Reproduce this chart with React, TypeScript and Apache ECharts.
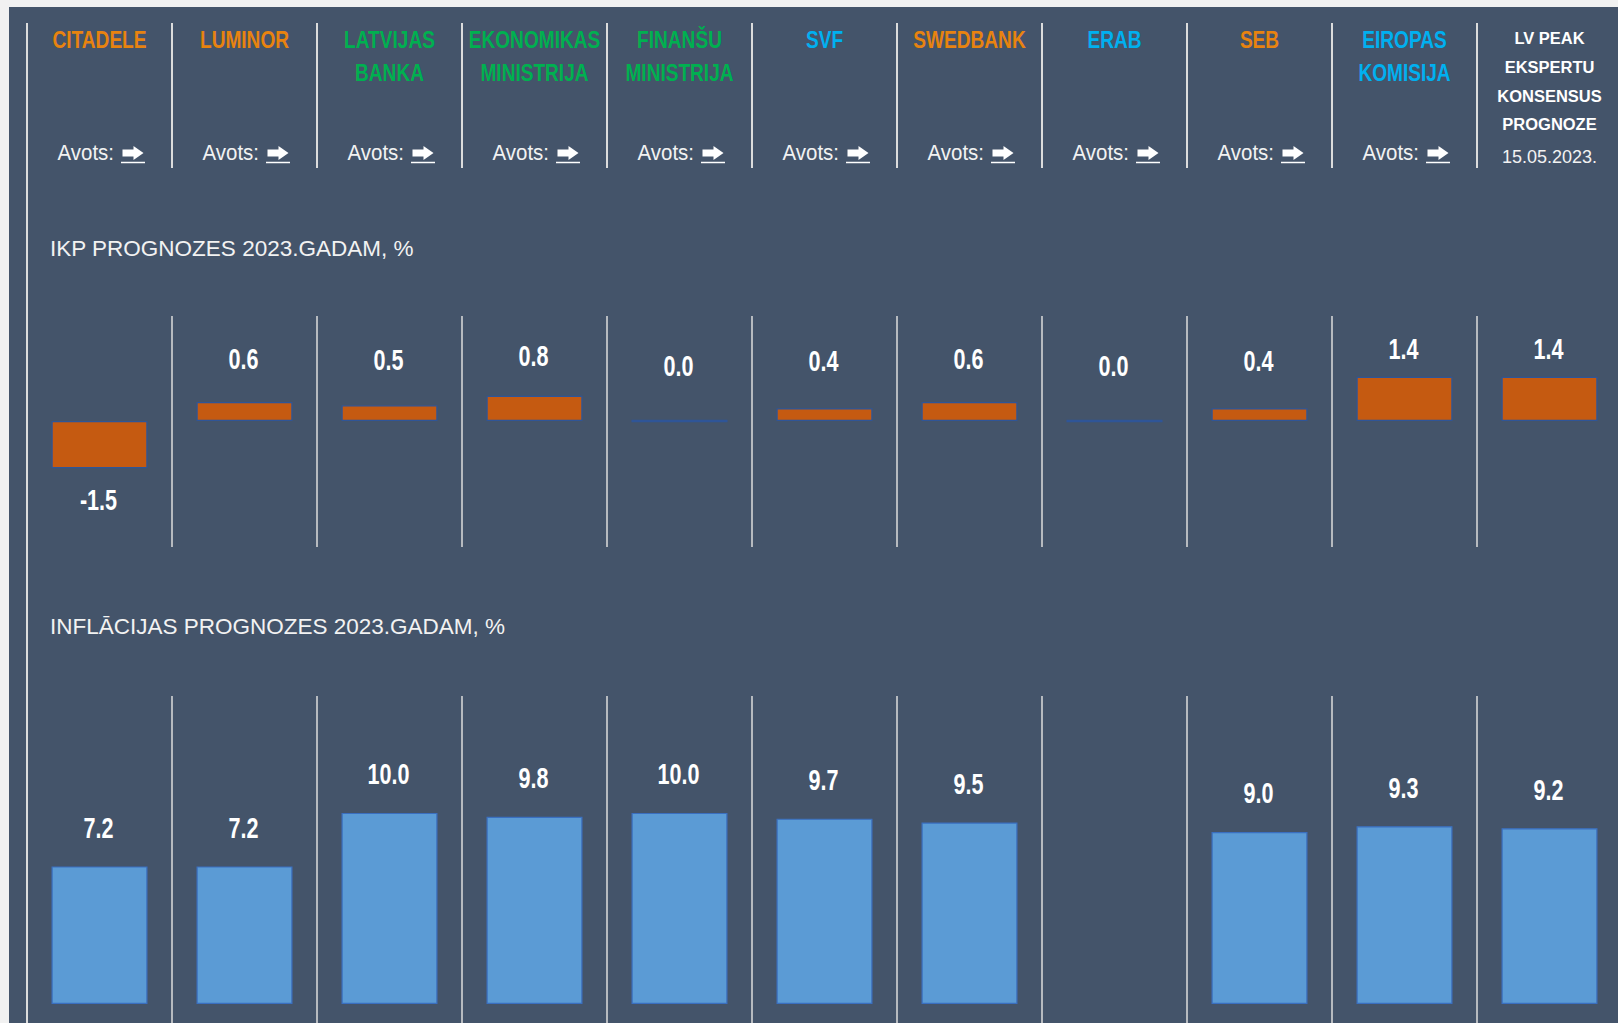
import React, { useEffect, useRef } from "react";
import * as echarts from "echarts";

// ---------- data ----------
const banks = [
  "CITADELE",
  "LUMINOR",
  "LATVIJAS\nBANKA",
  "EKONOMIKAS\nMINISTRIJA",
  "FINANŠU\nMINISTRIJA",
  "SVF",
  "SWEDBANK",
  "ERAB",
  "SEB",
  "EIROPAS\nKOMISIJA",
  "LV PEAK\nEKSPERTU\nKONSENSUS\nPROGNOZE",
];
const bankTypes = ["bank", "bank", "state", "state", "state", "intl", "bank", "intl", "bank", "intl", "consensus"];
const gdpForecast = [-1.5, 0.6, 0.5, 0.8, 0.0, 0.4, 0.6, 0.0, 0.4, 1.4, 1.4];
const inflationForecast: (number | null)[] = [7.2, 7.2, 10.0, 9.8, 10.0, 9.7, 9.5, null, 9.0, 9.3, 9.2];
const sourceLabel = "Avots:";
const consensusDate = "15.05.2023.";
const gdpTitle = "IKP PROGNOZES 2023.GADAM, %";
const inflationTitle = "INFLĀCIJAS PROGNOZES 2023.GADAM, %";

// ---------- styles / layout ----------
const typeColors: Record<string, string> = {
  bank: "#e8830f",
  state: "#00b050",
  intl: "#00b0f0",
  consensus: "#ffffff",
};
const PANEL = "#44546a";
const LINE = "#dcdcdc";
const OX = 9;
const OY = 7;
const COL_W = 145;
const CW = 1660; // wider than the page, clipped by the outer div
const CH = 1023 - OY;
const GRID_LEFT = 27 - OX;
const FONT = "Liberation Sans";

const px = (X: number) => X - OX;
const py = (Y: number) => Y - OY;
const colCenter = (i: number) => px(27 + COL_W * (i + 0.5));

function buildGraphic() {
  const els: any[] = [];
  els.push({
    type: "line",
    shape: { x1: px(27), y1: py(23), x2: px(27), y2: CH },
    style: { stroke: LINE, lineWidth: 2 },
  });
  const title = (text: string, Y: number) => ({
    type: "text",
    x: px(50),
    y: py(Y),
    style: {
      text,
      fill: "#f2f2f2",
      fontSize: 22.5,
      fontFamily: FONT,
      align: "left",
      textAlign: "left",
      verticalAlign: "middle",
      textVerticalAlign: "middle",
    },
  });
  els.push(title(gdpTitle, 248));
  els.push(title(inflationTitle, 626));

  banks.forEach((name, i) => {
    const c = colCenter(i);
    const t = bankTypes[i];
    if (t === "consensus") {
      els.push({
        type: "text",
        x: c,
        y: py(24.2),
        scaleX: 0.97,
        style: {
          text: name,
          fill: typeColors[t],
          fontSize: 17,
          fontWeight: "bold",
          fontFamily: FONT,
          lineHeight: 28.7,
          align: "center",
          textAlign: "center",
          verticalAlign: "top",
          textVerticalAlign: "top",
        },
      });
      els.push({
        type: "text",
        x: c,
        y: py(157),
        style: {
          text: consensusDate,
          fill: "#f2f2f2",
          fontSize: 18,
          fontFamily: FONT,
          align: "center",
          textAlign: "center",
          verticalAlign: "middle",
          textVerticalAlign: "middle",
        },
      });
      return;
    }
    els.push({
      type: "text",
      x: c,
      y: py(23.5),
      scaleX: 0.83,
      style: {
        text: name,
        fill: typeColors[t],
        fontSize: 23,
        fontWeight: "bold",
        fontFamily: FONT,
        lineHeight: 33,
        align: "center",
        textAlign: "center",
        verticalAlign: "top",
        textVerticalAlign: "top",
      },
    });
    els.push({
      type: "text",
      x: c + 14.5,
      y: py(153),
      scaleX: 0.93,
      style: {
        text: sourceLabel,
        fill: "#f2f2f2",
        fontSize: 22,
        fontFamily: FONT,
        align: "right",
        textAlign: "right",
        verticalAlign: "middle",
        textVerticalAlign: "middle",
      },
    });
    const Y = py(153);
    els.push({
      type: "polygon",
      shape: {
        points: [
          [c + 23, Y - 3.5],
          [c + 34, Y - 3.5],
          [c + 34, Y - 7],
          [c + 44, Y],
          [c + 34, Y + 7],
          [c + 34, Y + 3.5],
          [c + 23, Y + 3.5],
        ],
      },
      style: { fill: "#ffffff" },
    });
    els.push({
      type: "line",
      shape: { x1: c + 21.5, y1: py(162.5), x2: c + 45.5, y2: py(162.5) },
      style: { stroke: "#ffffff", lineWidth: 1.5 },
    });
  });
  return els;
}

const catAxis = (gridIndex: number, lw: number) => ({
  type: "category",
  gridIndex,
  data: banks,
  boundaryGap: true,
  axisLine: { show: false },
  axisTick: { show: false },
  axisLabel: { show: false },
  splitLine: { show: true, interval: 0, lineStyle: { color: LINE, width: lw } },
});

const valAxis = (gridIndex: number, min: number, max: number) => ({
  type: "value",
  gridIndex,
  min,
  max,
  show: false,
});

function labelStyle(text: string) {
  return {
    text,
    fill: "#ffffff",
    fontSize: 30,
    fontWeight: "bold",
    fontFamily: FONT,
    align: "center",
    textAlign: "center",
    verticalAlign: "middle",
    textVerticalAlign: "middle",
  };
}

export default function App() {
  const ref = useRef<HTMLDivElement>(null);
  useEffect(() => {
    if (!ref.current) return;
    const chart = echarts.init(ref.current, null, { renderer: "svg" });
    const gridW = COL_W * banks.length;
    const option: any = {
      animation: false,
      backgroundColor: PANEL,
      grid: [
        { left: GRID_LEFT, width: gridW, top: py(23), height: 145 },
        { left: GRID_LEFT, width: gridW, top: py(316), height: 231 },
        { left: GRID_LEFT, width: gridW, top: py(696), height: 327 },
      ],
      xAxis: [catAxis(0, 2), catAxis(1, 1.5), catAxis(2, 1.5)],
      yAxis: [valAxis(0, 0, 1), valAxis(1, -4, 3.33), valAxis(2, -1, 16.12)],
      series: [
        {
          type: "bar",
          xAxisIndex: 1,
          yAxisIndex: 1,
          data: gdpForecast.map((v) =>
            v === 0 ? { value: v, itemStyle: { borderWidth: 2.5 } } : v
          ),
          barWidth: 96,
          itemStyle: { color: "#c55a11", borderColor: "#2f5597", borderWidth: 1.2 },
        },
        {
          type: "custom",
          xAxisIndex: 1,
          yAxisIndex: 1,
          data: gdpForecast.map((v, i) => [i, v]),
          renderItem: (params: any, api: any) => {
            const i = api.value(0);
            const v = api.value(1);
            const zero = api.coord([i, 0]);
            const end = api.coord([i, v]);
            const y = v >= 0 ? zero[1] - 55 - (zero[1] - end[1]) * 0.4 : end[1] + 31.5;
            return {
              type: "text",
              x: zero[0] - 1,
              y,
              scaleX: 0.72,
              style: labelStyle(v.toFixed(1)),
            };
          },
        },
        {
          type: "bar",
          xAxisIndex: 2,
          yAxisIndex: 2,
          data: inflationForecast,
          barWidth: 96,
          itemStyle: { color: "#5b9bd5", borderColor: "#3a6fc0", borderWidth: 1.2 },
        },
        {
          type: "custom",
          xAxisIndex: 2,
          yAxisIndex: 2,
          data: inflationForecast
            .map((v, i) => [i, v])
            .filter((d) => d[1] !== null),
          renderItem: (params: any, api: any) => {
            const i = api.value(0);
            const v = api.value(1);
            const end = api.coord([i, v]);
            return {
              type: "text",
              x: end[0] - 1,
              y: end[1] - 39,
              scaleX: 0.72,
              style: labelStyle(v.toFixed(1)),
            };
          },
        },
      ],
      graphic: buildGraphic(),
    };
    chart.setOption(option);
    return () => chart.dispose();
  }, []);

  return (
    <div
      style={{
        position: "absolute",
        left: 0,
        top: 0,
        width: 1618,
        height: 1023,
        background: "#f1f1f1",
        overflow: "hidden",
      }}
    >
      <div
        ref={ref}
        style={{ position: "absolute", left: OX, top: OY, width: CW, height: CH }}
      />
    </div>
  );
}
